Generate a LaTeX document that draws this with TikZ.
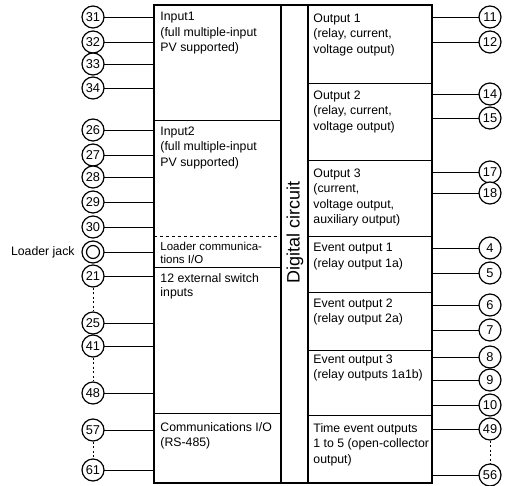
\documentclass[tikz,border=0pt]{standalone}
\usepackage{fontspec}
\setmainfont{Liberation Sans}
\usetikzlibrary{positioning}

\begin{document}
\begin{tikzpicture}[x=1pt,y=-1pt,line width=0.9pt,
  font=\fontsize{12.3}{15.5}\selectfont,
  term/.style={circle,draw,line width=1.2pt,minimum size=22pt,inner sep=0pt,
    fill=white,font=\fontsize{12.8}{14}\selectfont},
  blocktext/.style={anchor=north west,align=left,inner sep=0pt},
  gap/.style={dash pattern=on 2pt off 2.5pt}]
\useasboundingbox (0,0) rectangle (506,485);
% block outlines
\coordinate (lin) at (154,0);
\coordinate (rout) at (432,0);
\draw[line width=1.3pt] (154,5) rectangle (281,483);
\draw[line width=1.3pt] (281,5) rectangle (308,483);
\draw[line width=1.3pt] (308,5) rectangle (432,483);
\draw (154,120) -- (281,120);
\draw[dashed] (154,236) -- (281,236);
\draw (154,267) -- (281,267);
\draw (154,413) -- (281,413);
\draw (308,83) -- (432,83);
\draw (308,160) -- (432,160);
\draw (308,236) -- (432,236);
\draw (308,292) -- (432,292);
\draw (308,350) -- (432,350);
\draw (308,415) -- (432,415);
\node[rotate=90,font=\fontsize{18}{20}\selectfont] (dc) at (295,232) {Digital circuit};
% block texts
\node[blocktext] (in1) at (160,12) {Input1\\(full multiple-input\\PV supported)};
\node[blocktext] (in2) at (160,126) {Input2\\(full multiple-input\\PV supported)};
\node[blocktext,font=\fontsize{11.5}{12.5}\selectfont] (ldr) at (160,242) {Loader communica-\\tions I/O};
\node[blocktext,font=\fontsize{12.3}{14}\selectfont] (sw) at (160,273) {12 external switch\\inputs};
\node[blocktext] (com) at (160,422) {Communications I/O\\(RS-485)};
\node[blocktext] (out1) at (313,13) {Output 1\\(relay, current,\\voltage output)};
\node[blocktext] (out2) at (313,90) {Output 2\\(relay, current,\\voltage output)};
\node[blocktext] (out3) at (313,168) {Output 3\\(current,\\voltage output,\\auxiliary output)};
\node[blocktext] (ev1) at (313,243) {Event output 1\\(relay output 1a)};
\node[blocktext] (ev2) at (313,298) {Event output 2\\(relay output 2a)};
\node[blocktext] (ev3) at (313,354) {Event output 3\\(relay outputs 1a1b)};
\node[blocktext] (tev) at (313,423) {Time event outputs\\1 to 5 (open-collector\\output)};
% left terminals
\foreach \n/\y in {31/17,32/42,33/64,34/88,26/130,27/155,28/177,29/202,30/227,
  21/276,25/323,41/346,48/393,57/430,61/470}{
  \draw (93,\y) -- (lin |- 0,\y);
  \node[term] (t\n) at (93,\y) {\n};
}
\draw (93,252) -- (lin |- 0,252);
\node[term] (jack) at (93,252) {};
\draw[line width=1.2pt] (jack) circle (6.5);
\node[left=3pt of jack] (jacklbl) {Loader jack};
% right terminals
\foreach \n/\y in {11/17,12/42,14/94,15/118,17/172,18/193,4/248,5/273,
  6/305,7/330,8/357,9/380,10/405,49/429,56/475}{
  \draw (rout |- 0,\y) -- (490,\y);
  \node[term] (t\n) at (490,\y) {\n};
}
% omitted terminals
\draw[gap] (t21) -- (t25);
\draw[gap] (t41) -- (t48);
\draw[gap] (t57) -- (t61);
\draw[gap] (t49) -- (t56);
\end{tikzpicture}
\end{document}
